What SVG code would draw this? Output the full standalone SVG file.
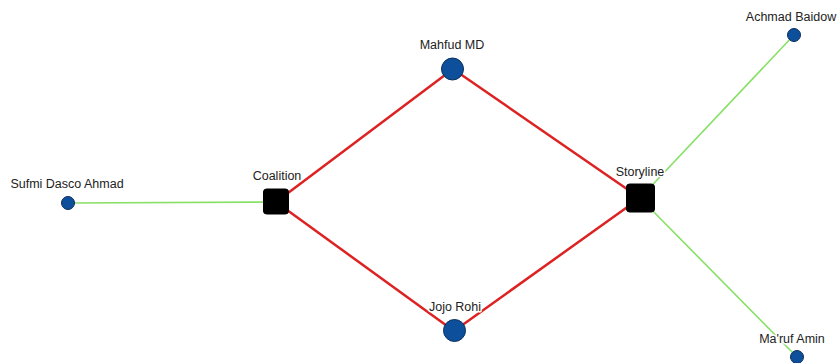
<svg xmlns="http://www.w3.org/2000/svg" width="838" height="363" viewBox="0 0 838 363">
<style>
.red{stroke:#dd2222;stroke-width:2.5;fill:none}
.green{stroke:#88e066;stroke-width:1.6;fill:none}
.person{fill:#0d4f9a;stroke:#0a2f5e;stroke-width:1}
.group{fill:#000;stroke:#000}
.lbl{font-family:"Liberation Sans",Arial,sans-serif;font-size:12.5px;fill:#222;text-anchor:middle;stroke:#fff;stroke-width:3;stroke-linejoin:round;paint-order:stroke}
</style>
<rect width="838" height="363" fill="#fff"/>
<g id="connectors">
<line class="red" x1="276" y1="202" x2="453" y2="69"/>
<line class="red" x1="276" y1="202" x2="454" y2="331"/>
<line class="red" x1="640" y1="198" x2="453" y2="69"/>
<line class="red" x1="640" y1="198" x2="454" y2="331"/>
<line class="green" x1="276" y1="202" x2="68" y2="203"/>
<line class="green" x1="640" y1="198" x2="794" y2="35"/>
<line class="green" x1="640" y1="198" x2="797" y2="357"/>
</g>
<g id="coalition"><rect class="group" x="263.5" y="189" width="25" height="25" rx="3"/><text class="lbl" x="277" y="180">Coalition</text></g>
<g id="storyline"><rect class="group" x="626.5" y="184" width="28" height="28" rx="3"/><text class="lbl" x="640" y="176">Storyline</text></g>
<g id="mahfud"><circle class="person" cx="452.5" cy="69" r="11"/><text class="lbl" x="452" y="49">Mahfud MD</text></g>
<g id="jojo"><circle class="person" cx="454.5" cy="330.5" r="11"/><text class="lbl" x="455" y="311">Jojo Rohi</text></g>
<g id="achmad"><circle class="person" cx="794" cy="35" r="6.5"/><text class="lbl" x="791" y="21">Achmad Baidow</text></g>
<g id="maruf"><circle class="person" cx="797" cy="357" r="6.5"/><text class="lbl" x="792" y="343">Ma'ruf Amin</text></g>
<g id="sufmi"><circle class="person" cx="68" cy="203" r="6.5"/><text class="lbl" x="67" y="188">Sufmi Dasco Ahmad</text></g>
</svg>
